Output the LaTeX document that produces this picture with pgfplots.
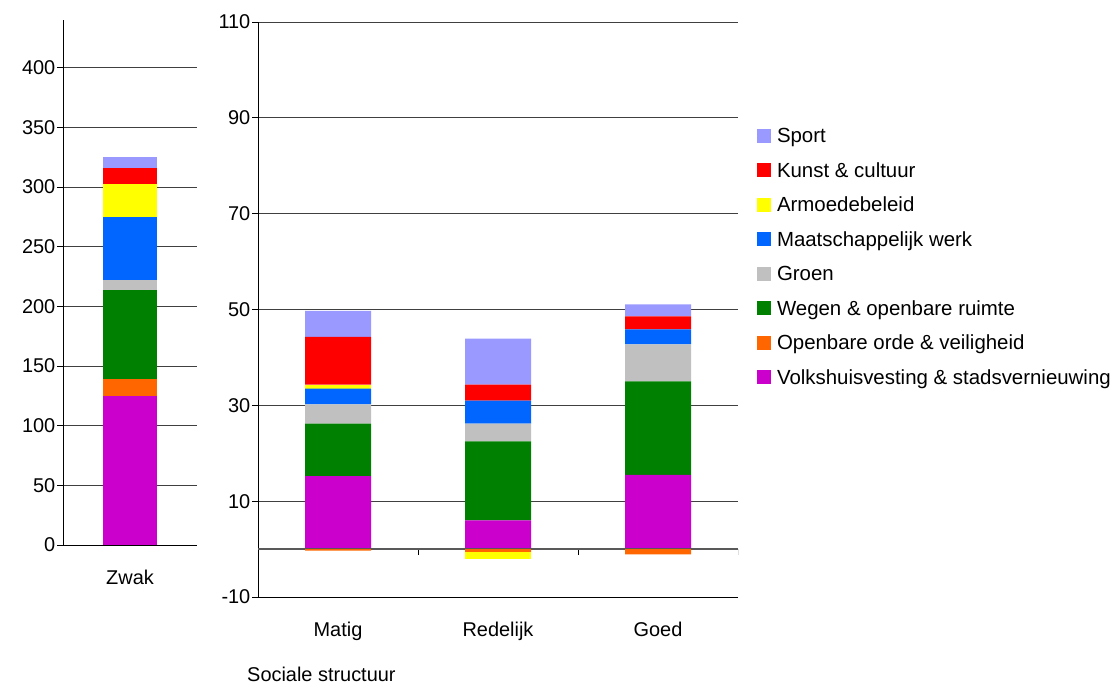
\documentclass[border=0pt]{standalone}
\usepackage{pgfplots}
\usepackage{pgfplotstable}
\pgfplotsset{compat=1.18}
\usepackage{fontspec}
\setmainfont{Liberation Sans}

\definecolor{cSport}{HTML}{9999FF}
\definecolor{cKunst}{HTML}{FF0000}
\definecolor{cArm}{HTML}{FFFF00}
\definecolor{cMaat}{HTML}{0066FF}
\definecolor{cGroen}{HTML}{C0C0C0}
\definecolor{cWegen}{HTML}{008000}
\definecolor{cOrde}{HTML}{FF6600}
\definecolor{cVolks}{HTML}{CC00CC}

% Zwak (left axis)
\pgfplotstableread{
x volks orde wegen groen maatsch armoede kunst sport
0 124.6 14.1 75.4 8.4 52.0 27.9 13.2 9.3
}\zwak
% Matig, Redelijk, Goed: positive parts
\pgfplotstableread{
x volks orde wegen groen maatsch armoede kunst sport
0 15.2 0 11.0 4.0 3.3 0.8 10.0 5.4
1 6.0 0 16.5 3.7 4.8 0 3.3 9.6
2 15.5 0 19.5 7.7 3.15 0 2.7 2.5
}\restpos
% negative parts
\pgfplotstableread{
x orde armoede
0 -0.3 0
1 -0.6 -1.5
2 -1.1 0
}\restneg

\pgfplotsset{
  common/.style={
    scale only axis,
    /pgf/number format/assume math mode=true,
    tick label style={font=\fontsize{20}{24}\selectfont},
    label style={font=\fontsize{20}{24}\selectfont},
    axis lines=left,
    axis line style={-, black, line width=0.8bp},
    ymajorgrids,
    grid style={black!75, line width=0.8bp},
    tick align=outside,
    major tick length=6bp,
    ytick style={black, line width=0.8bp},
    xtick style={draw=none},
    yticklabel style={inner sep=1.5bp},
    xticklabel style={yshift=-16bp},
    ybar stacked,
  },
}

\begin{document}
\begin{tikzpicture}[x=1bp,y=1bp]
\useasboundingbox (0,0) rectangle (1116,684);

% ---------- left axis: Zwak ----------
\begin{axis}[common,
  at={(63bp,139bp)}, anchor=south west,
  width=134bp, height=525bp,
  xmin=-0.5, xmax=0.5, ymin=0, ymax=440,
  bar width=54bp,
  xtick={0}, xticklabels={Zwak},
  ytick={0,50,...,400},
]
\addplot[fill=cVolks, draw=none] table[x=x,y=volks]{\zwak};
\addplot[fill=cOrde, draw=none] table[x=x,y=orde]{\zwak};
\addplot[fill=cWegen, draw=none] table[x=x,y=wegen]{\zwak};
\addplot[fill=cGroen, draw=none] table[x=x,y=groen]{\zwak};
\addplot[fill=cMaat, draw=none] table[x=x,y=maatsch]{\zwak};
\addplot[fill=cArm, draw=none] table[x=x,y=armoede]{\zwak};
\addplot[fill=cKunst, draw=none] table[x=x,y=kunst]{\zwak};
\addplot[fill=cSport, draw=none] table[x=x,y=sport]{\zwak};
\draw[black, line width=0.8bp] (axis cs:-0.5,0) -- ([yshift=-6bp]axis cs:-0.5,0);
\draw[black, line width=0.8bp] (axis cs:0.5,0) -- ([yshift=-6bp]axis cs:0.5,0);
\end{axis}

% ---------- right axis: Matig, Redelijk, Goed ----------
\begin{axis}[common,
  at={(258bp,87bp)}, anchor=south west,
  width=480bp, height=575bp,
  xmin=-0.5, xmax=2.5, ymin=-10, ymax=110,
  bar width=66bp,
  xtick={0,1,2}, xticklabels={Matig,Redelijk,Goed},
  ytick={-10,10,...,110},
  xlabel={Sociale structuur},
  xlabel style={at={(rel axis cs:-0.0229,-0.1478)}, anchor=base west, inner sep=0pt},
  reverse legend,
  legend image code/.code={\fill[#1] (0bp,-5.5bp) rectangle (14bp,8.5bp);},
  legend style={draw=none, fill=none, at={(rel axis cs:1.0396,0.8157)}, anchor=north west,
    inner sep=0pt, outer sep=0pt, row sep=15.5bp, column sep=6bp,
    font=\fontsize{20.5}{24}\selectfont,
    nodes={inner sep=0pt, text height=15bp, text depth=4bp}},
  legend cell align=left,
]
\addplot[fill=cVolks, draw=none] table[x=x,y=volks]{\restpos};
\addlegendentry{Volkshuisvesting \& stadsvernieuwing}
\addplot[fill=cOrde, draw=none] table[x=x,y=orde]{\restpos};
\addlegendentry{Openbare orde \& veiligheid}
\addplot[fill=cWegen, draw=none] table[x=x,y=wegen]{\restpos};
\addlegendentry{Wegen \& openbare ruimte}
\addplot[fill=cGroen, draw=none] table[x=x,y=groen]{\restpos};
\addlegendentry{Groen}
\addplot[fill=cMaat, draw=none] table[x=x,y=maatsch]{\restpos};
\addlegendentry{Maatschappelijk werk}
\addplot[fill=cArm, draw=none] table[x=x,y=armoede]{\restpos};
\addlegendentry{Armoedebeleid}
\addplot[fill=cKunst, draw=none] table[x=x,y=kunst]{\restpos};
\addlegendentry{Kunst \& cultuur}
\addplot[fill=cSport, draw=none] table[x=x,y=sport]{\restpos};
\addlegendentry{Sport}
\end{axis}

% ---------- overlay: negative parts ----------
\begin{axis}[common,
  at={(258bp,87bp)}, anchor=south west,
  width=480bp, height=575bp,
  xmin=-0.5, xmax=2.5, ymin=-10, ymax=110,
  bar width=66bp,
  axis lines=none, ymajorgrids=false, xtick=\empty, ytick=\empty,
]
\addplot[fill=cOrde, draw=none] table[x=x,y=orde]{\restneg};
\addplot[fill=cArm, draw=none] table[x=x,y=armoede]{\restneg};
\draw[black!65, line width=1.2bp] (axis cs:-0.5,0) -- (axis cs:2.5,0);
\draw[black, line width=0.8bp] (axis cs:-0.5,0) -- ([yshift=-6bp]axis cs:-0.5,0);
\draw[black, line width=0.8bp] (axis cs:0.5,0) -- ([yshift=-6bp]axis cs:0.5,0);
\draw[black, line width=0.8bp] (axis cs:1.5,0) -- ([yshift=-6bp]axis cs:1.5,0);
\draw[black, line width=0.8bp] (axis cs:2.5,0) -- ([yshift=-6bp]axis cs:2.5,0);
\end{axis}
\end{tikzpicture}
\end{document}
